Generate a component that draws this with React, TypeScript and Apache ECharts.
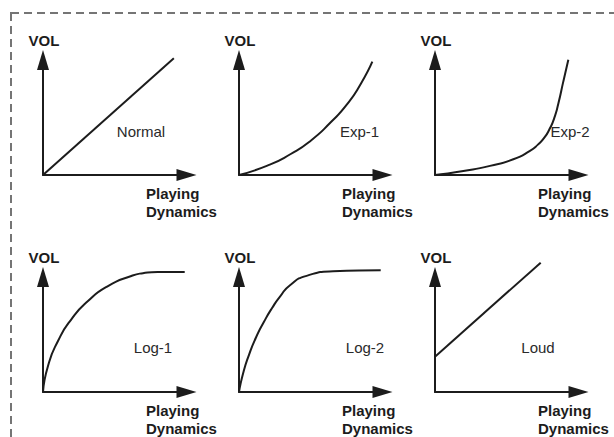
import React, { useEffect, useRef } from "react";
import * as echarts from "echarts";

// Curve names, one per small chart (row by row)
const curveNames = ["Normal", "Exp-1", "Exp-2", "Log-1", "Log-2", "Loud"];
const yAxisTitle = "VOL";
const xAxisTitle = "Playing\nDynamics";

// Curve data: [playing dynamics (0-100), volume (0-100)]
const normalCurve = [
  [0, 0],
  [89, 97.2],
];
const exp1Curve = [
  [0, 0],
  [19.3, 7.8],
  [35.2, 17.5],
  [48.8, 28.6],
  [62.4, 43.9],
  [73.7, 59.2],
  [82.8, 75.8],
  [90.7, 94.4],
];
const exp2Curve = [
  [0, 0],
  [19.3, 3.4],
  [37.4, 7.6],
  [53.3, 13.1],
  [64.6, 20.1],
  [70, 25.3],
  [74.5, 31.3],
  [78, 38.5],
  [81, 47],
  [84, 60],
  [87.3, 78],
  [90.7, 96],
];
const log1Curve = [
  [0, 0],
  [3.4, 21.7],
  [10.2, 42.5],
  [19.3, 60.6],
  [30.6, 75.8],
  [44.2, 88.3],
  [60.1, 96.7],
  [68, 99],
  [78, 100],
  [96.4, 100],
];
const log2Curve = [
  [0, 0],
  [2.9, 16],
  [6.8, 31],
  [11.4, 45],
  [17, 58.5],
  [22.5, 70],
  [27.9, 79.5],
  [34.7, 89],
  [46, 96.8],
  [64, 100.6],
  [96.4, 101.4],
];
const loudCurve = [
  [0, 29.4],
  [71.9, 107.8],
];

const curves = [normalCurve, exp1Curve, exp2Curve, log1Curve, log2Curve, loudCurve];

// Layout (pixels)
const FONT = "'Liberation Sans', Arial, Helvetica, sans-serif";
const INK = "#1c1c1c";
const COL_X0 = 43;
const COL_STEP = 196;
const ROW_Y0 = 55;
const ROW_STEP = 217;
const GRID_W = 147;
const GRID_H = 120;
// label centre offsets relative to each panel's origin
const labelOffsets = [
  [98, -44],
  [120.5, -44],
  [135, -44],
  [110, -45],
  [126, -45],
  [103, -45],
];

export default function App() {
  const ref = useRef<HTMLDivElement>(null);

  useEffect(() => {
    if (!ref.current) return;
    const chart = echarts.init(ref.current, undefined, { renderer: "svg" });

    const grids: any[] = [];
    const xAxes: any[] = [];
    const yAxes: any[] = [];
    const series: any[] = [];
    const graphics: any[] = [];

    graphics.push({
      type: "rect",
      shape: { x: 11, y: 13, width: 700, height: 500 },
      style: { fill: "none", stroke: "#757575", lineWidth: 2, lineDash: [8, 5] },
      z: 0,
    });

    curves.forEach((data, i) => {
      const col = i % 3;
      const row = Math.floor(i / 3);
      const left = COL_X0 + COL_STEP * col;
      const top = ROW_Y0 + ROW_STEP * row;
      const originY = top + GRID_H;
      grids.push({ left, top, width: GRID_W, height: GRID_H, containLabel: false });
      const axisCommon = {
        type: "value",
        min: 0,
        max: 100,
        gridIndex: i,
        axisTick: { show: false },
        axisLabel: { show: false },
        splitLine: { show: false },
      };
      xAxes.push({
        ...axisCommon,
        axisLine: {
          show: true,
          onZero: false,
          symbol: ["none", "triangle"],
          symbolSize: [12, 20],
          symbolOffset: [0, -3.5],
          lineStyle: { color: INK, width: 2 },
        },
      });
      yAxes.push({
        ...axisCommon,
        axisLine: {
          show: true,
          onZero: false,
          symbol: ["none", "triangle"],
          symbolSize: [12, 20],
          symbolOffset: [0, -5],
          lineStyle: { color: INK, width: 2 },
        },
      });
      series.push({
        type: "line",
        name: curveNames[i],
        xAxisIndex: i,
        yAxisIndex: i,
        data,
        smooth: 0.6,
        showSymbol: false,
        clip: false,
        lineStyle: { color: INK, width: 2 },
        z: 3,
      });

      graphics.push({
        type: "text",
        x: left + 1,
        y: top - 15,
        style: {
          text: yAxisTitle,
          font: `bold 15px ${FONT}`,
          fill: INK,
          align: "center",
          verticalAlign: "middle",
        },
      });
      graphics.push({
        type: "text",
        x: left + 103,
        y: originY + 9,
        style: {
          text: xAxisTitle,
          font: `bold 15px ${FONT}`,
          fill: INK,
          align: "left",
          verticalAlign: "top",
          lineHeight: 18,
        },
      });
      graphics.push({
        type: "text",
        x: left + labelOffsets[i][0],
        y: originY + labelOffsets[i][1],
        style: {
          text: curveNames[i],
          font: `15px ${FONT}`,
          fill: "#2a2a2a",
          align: "center",
          verticalAlign: "middle",
        },
      });
    });

    chart.setOption({
      animation: false,
      backgroundColor: "#ffffff",
      grid: grids,
      xAxis: xAxes,
      yAxis: yAxes,
      series,
      graphic: graphics,
    });

    return () => chart.dispose();
  }, []);

  return (
    <div
      ref={ref}
      style={{ position: "fixed", left: 0, top: 0, width: 614, height: 437 }}
    />
  );
}
